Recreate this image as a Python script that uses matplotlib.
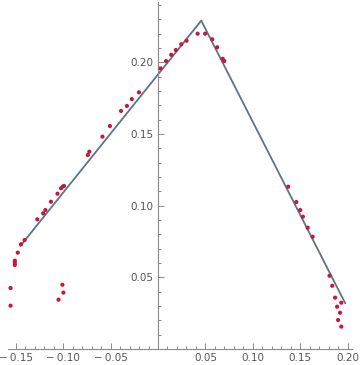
import matplotlib
matplotlib.use('Agg')
import matplotlib.pyplot as plt
from matplotlib.ticker import MultipleLocator, FuncFormatter

# fitted piecewise line (vertices)
line_x = [-0.145, 0.0456, 0.1974]
line_y = [0.072, 0.229, 0.032]

# measured points
pts_x = [-0.1555, -0.1555, -0.1510, -0.1510, -0.1510, -0.1479, -0.1445, -0.1407,
         -0.1049, -0.0998, -0.1008,
         -0.1273, -0.1211, -0.1188, -0.1129, -0.1060, -0.1022, -0.1005, -0.0992,
         -0.0740, -0.0724, -0.0586, -0.0507, -0.0390, -0.0328, -0.0276, -0.0201,
         0.0026, 0.0085, 0.0139, 0.0188, 0.0245, 0.0301, 0.0418, 0.0497,
         0.0572, 0.0624, 0.0682, 0.0699,
         0.1373, 0.1459, 0.1500, 0.1528, 0.1579, 0.1631,
         0.1809, 0.1837, 0.1868, 0.1933, 0.1889, 0.1920, 0.1899, 0.1933]
pts_y = [0.0302, 0.0425, 0.0586, 0.0602, 0.0616, 0.0672, 0.0730, 0.0760,
         0.0344, 0.0393, 0.0448,
         0.0904, 0.0946, 0.0969, 0.1027, 0.1083, 0.1121, 0.1132, 0.1137,
         0.1353, 0.1376, 0.1481, 0.1555, 0.1660, 0.1695, 0.1743, 0.1790,
         0.1957, 0.2008, 0.2052, 0.2085, 0.2125, 0.2150, 0.2199, 0.2199,
         0.2160, 0.2104, 0.2024, 0.2008,
         0.1132, 0.1025, 0.0969, 0.0923, 0.0846, 0.0783,
         0.0511, 0.0441, 0.0358, 0.0323, 0.0295, 0.0253, 0.0202, 0.0156]


def fmt(v, pos):
    if abs(v) < 1e-9:
        return ''
    s = '%.2f' % abs(v)
    return ('\u2212\u2009' + s) if v < 0 else s


def main():
    fig = plt.figure(figsize=(3.6, 3.65), dpi=100)
    ax = fig.add_axes([8 / 360, 16 / 365, 344 / 360, 347 / 365])
    ax.plot(line_x, line_y, color='#5f7384', lw=1.3, zorder=2)
    ax.scatter(pts_x, pts_y, s=9, color='#c8163c', edgecolors='none', zorder=3)

    ax.set_xlim(-0.1582, 0.2046)
    ax.set_ylim(0, 0.242)
    for side in ['top', 'right']:
        ax.spines[side].set_visible(False)
    ax.spines['left'].set_position(('data', 0))
    ax.spines['bottom'].set_position(('data', 0))
    for side in ['left', 'bottom']:
        ax.spines[side].set_color('#8a8a8a')
        ax.spines[side].set_linewidth(0.8)

    ax.xaxis.set_major_locator(MultipleLocator(0.05))
    ax.xaxis.set_minor_locator(MultipleLocator(0.01))
    ax.yaxis.set_major_locator(MultipleLocator(0.05))
    ax.yaxis.set_minor_locator(MultipleLocator(0.01))
    ax.xaxis.set_major_formatter(FuncFormatter(fmt))
    ax.yaxis.set_major_formatter(FuncFormatter(fmt))
    ax.tick_params(which='both', direction='in', color='#8a8a8a', width=0.7,
                   labelsize=7.5, labelcolor='#555555', pad=3)
    ax.tick_params(which='major', length=4)
    ax.tick_params(which='minor', length=2.5)
    ax.set_facecolor('white')
    fig.savefig('out.png', dpi=100)


if __name__ == '__main__':
    main()
